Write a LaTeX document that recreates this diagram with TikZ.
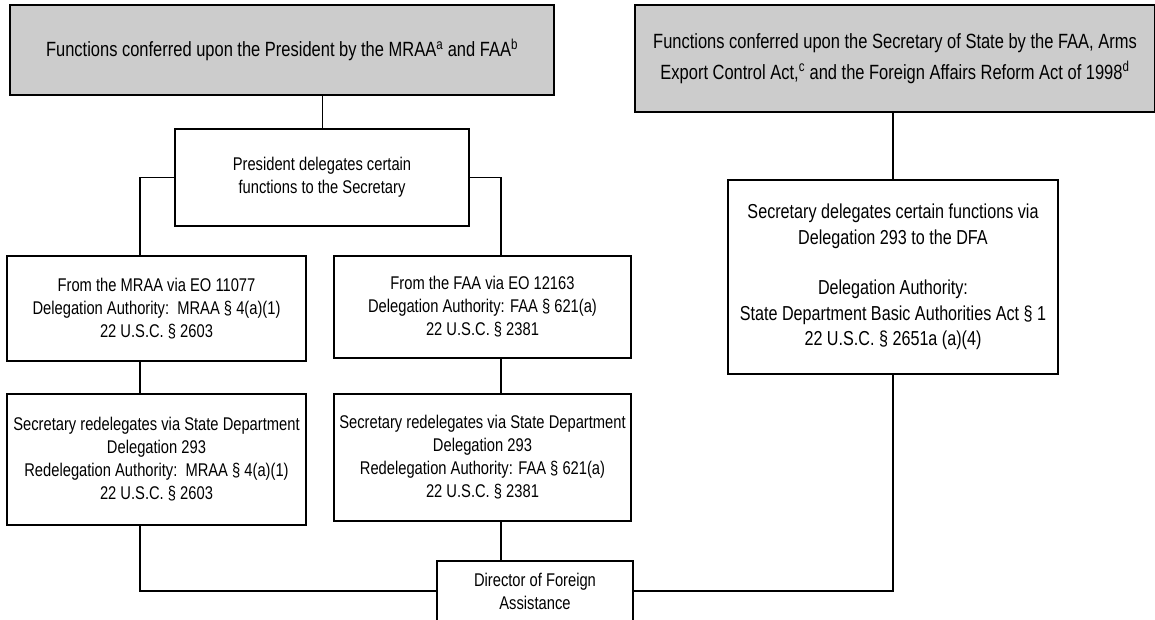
\documentclass[tikz,border=0pt]{standalone}
\usepackage{fontspec}
\setmainfont{Liberation Sans}[FakeStretch=0.8]
\usepackage{tikz}

\tikzset{
  act/.style={draw, fill=black!20, line width=1.8pt, inner sep=0pt, align=center, font=\fontsize{20.6}{31}\selectfont},
  deleg/.style={draw, fill=white, line width=1.4pt, inner sep=0pt, align=center, font=\fontsize{18.4}{23}\selectfont},
  link/.style={line width=1.2pt},
}

\begin{document}
\begin{tikzpicture}[x=1pt,y=-1pt]
	\useasboundingbox (0,0) rectangle (1155,620);
	% Acts %
	\node [act, minimum width=544pt, minimum height=90pt] (pres) at (282,50) {Functions conferred upon the President by the MRAA\textsuperscript{a} and FAA\textsuperscript{b}};
	\node [act, minimum width=520pt, minimum height=107pt] (sec) at (895,58.5) {Functions conferred upon the Secretary of State by the FAA, Arms\\Export Control Act,\textsuperscript{c} and the Foreign Affairs Reform Act of 1998\textsuperscript{d}};
	% Delegations %
	\node [deleg, minimum width=294pt, minimum height=97pt] (presdel) at (322,177.5) {President delegates certain\\functions to the Secretary};
	\node [deleg, minimum width=299pt, minimum height=105pt] (mraa) at (156.5,308.5) {From the MRAA via EO 11077\\Delegation Authority:\ \ MRAA § 4(a)(1)\\22 U.S.C. § 2603};
	\node [deleg, minimum width=297pt, minimum height=102pt] (faa) at (482.5,307) {From the FAA via EO 12163\\Delegation Authority: FAA § 621(a)\\22 U.S.C. § 2381};
	\node [deleg, minimum width=299pt, minimum height=131pt] (mraaredel) at (156.5,459.5) {Secretary redelegates via State Department\\Delegation 293\\Redelegation Authority:\ \ MRAA § 4(a)(1)\\22 U.S.C. § 2603};
	\node [deleg, minimum width=297pt, minimum height=127pt] (faaredel) at (482.5,457.5) {Secretary redelegates via State Department\\Delegation 293\\Redelegation Authority: FAA § 621(a)\\22 U.S.C. § 2381};
	\node [deleg, font=\fontsize{20.2}{25.4}\selectfont, minimum width=330pt, minimum height=194pt] (secdel) at (893,277) {Secretary delegates certain functions via\\Delegation 293 to the DFA\\[25.4pt]Delegation Authority:\\State Department Basic Authorities Act § 1\\22 U.S.C. § 2651a (a)(4)};
	\node [deleg, minimum width=196pt, minimum height=60pt] (dfa) at (535,591) {Director of Foreign\\Assistance};
	% Lines %
	\draw [line width=0.9pt] (presdel.north) -- (presdel.north |- pres.south);
	\draw [link] (presdel.west) -| ([xshift=-16.5pt]mraa.north);
	\draw [link] (presdel.east) -| ([xshift=18.5pt]faa.north);
	\draw [link] ([xshift=-16.5pt]mraa.south) -- ([xshift=-16.5pt]mraaredel.north);
	\draw [link] ([xshift=18.5pt]faa.south) -- ([xshift=18.5pt]faaredel.north);
	\draw [link] ([xshift=18.5pt]faaredel.south) -- ([xshift=18.5pt]faaredel.south |- dfa.north);
	\draw [link] ([xshift=-16.5pt]mraaredel.south) |- (dfa.west);
	\draw [link] (secdel.north) -- (secdel.north |- sec.south);
	\draw [link, line width=2.4pt] (secdel.south) |- (dfa.east);
\end{tikzpicture}
\end{document}
